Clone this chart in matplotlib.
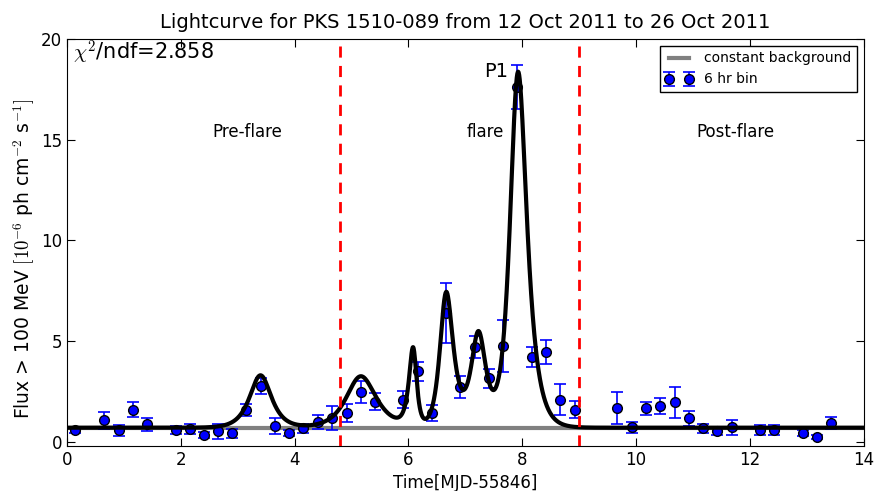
import numpy as np
import matplotlib
matplotlib.use("Agg")
import matplotlib.pyplot as plt

plt.rcParams["mathtext.fontset"] = "cm"

# ---- data ----
time = [0.14, 0.65, 0.91, 1.16, 1.41, 1.91, 2.16, 2.41, 2.65, 2.90, 3.15, 3.41,
        3.66, 3.90, 4.15, 4.41, 4.66, 4.92, 5.17, 5.41, 5.90, 6.17, 6.41, 6.66,
        6.91, 7.17, 7.42, 7.66, 7.91, 8.17, 8.42, 8.66, 8.93, 9.67, 9.93, 10.18,
        10.42, 10.69, 10.93, 11.18, 11.42, 11.69, 12.18, 12.43, 12.93, 13.18, 13.43]
flux = [0.57, 1.07, 0.57, 1.60, 0.87, 0.57, 0.62, 0.32, 0.52, 0.42, 1.57, 2.76,
        0.77, 0.42, 0.67, 0.97, 1.17, 1.42, 2.46, 2.00, 2.10, 3.50, 1.42, 6.40,
        2.70, 4.70, 3.15, 4.75, 17.6, 4.20, 4.45, 2.10, 1.60, 1.67, 0.72, 1.67,
        1.77, 1.97, 1.17, 0.67, 0.52, 0.72, 0.57, 0.57, 0.42, 0.22, 0.92]
flux_err = [0.15, 0.41, 0.27, 0.36, 0.33, 0.20, 0.25, 0.15, 0.38, 0.22, 0.30, 0.40,
            0.40, 0.15, 0.22, 0.35, 0.60, 0.45, 0.55, 0.42, 0.43, 0.48, 0.39, 1.48,
            0.55, 0.55, 0.47, 1.30, 1.10, 0.49, 0.58, 0.77, 0.44, 0.78, 0.27, 0.32,
            0.40, 0.77, 0.37, 0.23, 0.20, 0.37, 0.25, 0.25, 0.15, 0.10, 0.30]

background = 0.70
# fitted flare model parameters (peak time, amplitude, rise, decay)
peak_t = [3.40, 5.15, 6.09, 6.65, 7.23, 7.91]
peak_amp = [2.60, 2.55, 3.80, 6.60, 4.60, 17.5]
peak_rise = [0.17, 0.22, 0.07, 0.09, 0.115, 0.115]
peak_decay = [0.17, 0.25, 0.05, 0.12, 0.115, 0.15]

transitions = [4.8, 9.0]
region_labels = ["Pre-flare", "flare", "Post-flare"]
region_label_x = [3.16, 7.35, 11.74]

fig = plt.figure(figsize=(8.76, 4.91), dpi=100)
ax = fig.add_axes([0.0765, 0.092, 0.9095, 0.8286])

tt = np.linspace(0, 14, 3000)
model = np.full_like(tt, background)
for t0, a, tr, td in zip(peak_t, peak_amp, peak_rise, peak_decay):
    model += 2 * a / (np.exp((t0 - tt) / tr) + np.exp((tt - t0) / td))

ax.plot([0, 14], [background, background], color="gray", lw=3,
        label="constant background", zorder=2)
ax.errorbar(time, flux, yerr=flux_err, fmt="o", color="blue", mfc="blue",
            mec="black", ms=7, capsize=4, elinewidth=1.2, capthick=1.2,
            label="6 hr bin", zorder=3)
ax.plot(tt, model, color="black", lw=3, zorder=4)

for x in transitions:
    ax.axvline(x, color="red", ls="--", lw=2, dashes=(4, 3), zorder=5)

for lab, x in zip(region_labels, region_label_x):
    ax.text(x, 15.4, lab, ha="center", va="center", fontsize=12)
ax.text(7.54, 18.4, "P1", ha="center", va="center", fontsize=14)
ax.text(0.1, 19.3, r"$\chi^2$/ndf=2.858", ha="left", va="center", fontsize=15)

ax.set_xlim(0, 14)
ax.set_ylim(-0.2, 20)
ax.set_xticks([0, 2, 4, 6, 8, 10, 12, 14])
ax.set_yticks([0, 5, 10, 15, 20])
ax.tick_params(direction="in", top=True, right=True, labelsize=12, length=6)
ax.set_title("Lightcurve for PKS 1510-089 from 12 Oct 2011 to 26 Oct 2011",
             fontsize=14, pad=8)
ax.set_xlabel("Time[MJD-55846]", fontsize=12)
ax.set_ylabel(r"Flux > 100 MeV $[10^{-6}$ ph cm$^{-2}$ s$^{-1}]$", fontsize=13.5)
ax.yaxis.set_label_coords(-0.038, 0.46)

leg = ax.legend(loc="upper right", numpoints=2, fontsize=10, fancybox=False,
                edgecolor="black", framealpha=1)
leg.get_frame().set_linewidth(1)

fig.savefig("out.png", dpi=100)
